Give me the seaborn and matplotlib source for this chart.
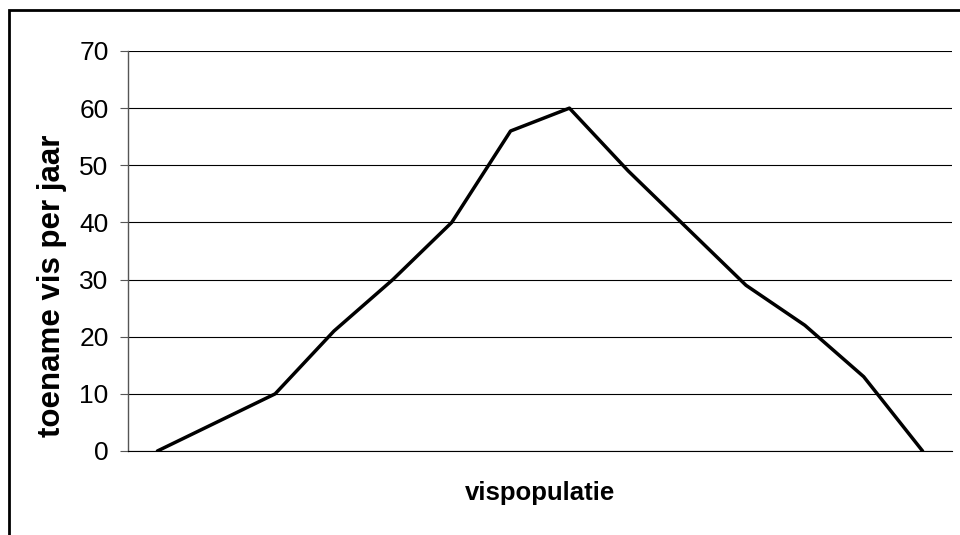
import matplotlib
matplotlib.use("Agg")
import matplotlib.pyplot as plt
import matplotlib.patches as patches
import pandas as pd
import seaborn as sns

# values (category axis, 14 points)
positions = list(range(14))
growth = [0, 5, 10, 21, 30, 40, 56, 60, 49, 39, 29, 22, 13, 0]
yticks = [0, 10, 20, 30, 40, 50, 60, 70]

df = pd.DataFrame({"pos": positions, "growth": growth})

sns.set_theme(style="white")
plt.rcParams['font.family'] = ['Liberation Sans', 'DejaVu Sans']
plt.rcParams['text.color'] = 'black'

fig = plt.figure(figsize=(9.6, 5.35), dpi=100)
ax = fig.add_axes([128 / 960, 1 - 451 / 535, (952 - 128) / 960, 400 / 535])

sns.lineplot(data=df, x="pos", y="growth", color="black", linewidth=2.5,
             sort=False, ax=ax)

ax.set_xlim(-0.5, 13.5)
ax.set_ylim(0, 70)
ax.set_yticks(yticks)
ax.set_xticks([])
ax.yaxis.grid(True, color="black", linewidth=0.8)
ax.set_axisbelow(True)
for s in ["top", "right"]:
    ax.spines[s].set_visible(False)
ax.spines["bottom"].set_color("black")
ax.spines["bottom"].set_linewidth(0.8)
ax.spines["left"].set_color("#555555")
ax.spines["left"].set_linewidth(1)
ax.tick_params(axis="y", which="both", left=True, length=6, width=0.8,
               color="#555555", labelsize=19, pad=8, labelcolor="black")

ax.set_xlabel("")
ax.set_ylabel("")
fig.text(540 / 960, 1 - 493 / 535, "vispopulatie", ha="center", va="center",
         fontsize=18.5, fontweight="bold")
fig.text(52 / 960, 1 - 286 / 535, "toename vis per jaar", ha="center",
         va="center", rotation=90, fontsize=22.5, fontweight="bold")

# chart border (runs off the right and bottom edges)
border = patches.Rectangle((8.5 / 960, -0.1), 1.2, 1 - 9.5 / 535 + 0.1,
                           transform=fig.transFigure, fill=False,
                           edgecolor="black", linewidth=2, clip_on=False)
fig.patches.append(border)

fig.savefig("out.png", dpi=100)
